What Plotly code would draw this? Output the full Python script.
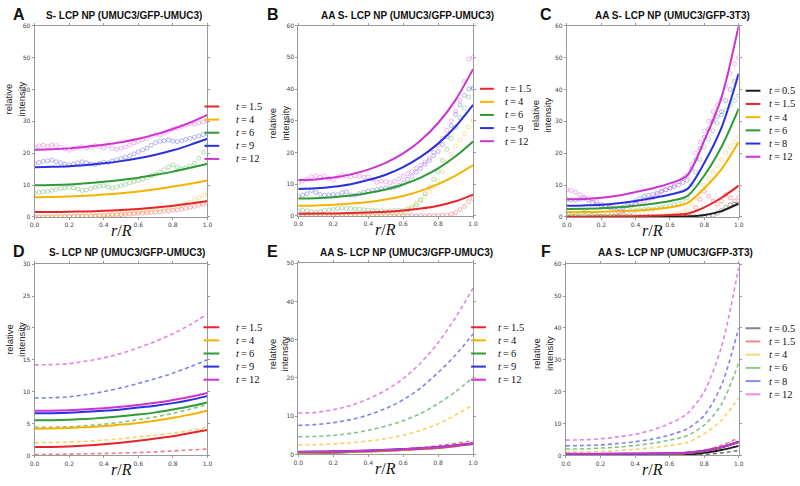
import plotly.graph_objects as go

W, H = 800, 486

# ---------------- data ----------------
r_model = [0.0, 0.1, 0.2, 0.3, 0.4, 0.5, 0.6, 0.7, 0.8, 0.9, 1.0]
r_data = [0.0, 0.025, 0.05, 0.075, 0.1, 0.125, 0.15, 0.175, 0.2, 0.225, 0.25,
          0.275, 0.3, 0.325, 0.35, 0.375, 0.4, 0.425, 0.45, 0.475, 0.5, 0.525,
          0.55, 0.575, 0.6, 0.625, 0.65, 0.675, 0.7, 0.725, 0.75, 0.775, 0.8,
          0.825, 0.85, 0.875, 0.9, 0.925, 0.95, 0.975, 1.0]

x_ticks = [0.0, 0.2, 0.4, 0.6, 0.8, 1.0]
x_tick_labels = ["0.0", "0.2", "0.4", "0.6", "0.8", "1.0"]

times_umuc = ["1.5", "4", "6", "9", "12"]
times_3t3 = ["0.5", "1.5", "4", "6", "8", "12"]

# Panel A : model fits
a_fit_red = [1.5, 1.52, 1.6, 1.72, 1.9, 2.15, 2.5, 2.95, 3.5, 4.2, 5.0]
a_fit_orange = [6.2, 6.25, 6.4, 6.65, 7.0, 7.45, 8.0, 8.7, 9.5, 10.4, 11.4]
a_fit_green = [9.9, 10.0, 10.2, 10.55, 11.0, 11.6, 12.3, 13.2, 14.2, 15.4, 16.7]
a_fit_blue = [15.6, 15.7, 15.9, 16.3, 16.8, 17.5, 18.4, 19.5, 20.9, 22.6, 24.5]
a_fit_magenta = [21.1, 21.2, 21.5, 22.0, 22.6, 23.4, 24.5, 25.9, 27.6, 29.6, 32.0]
# Panel A : measured
a_red = [0.0, 0.0, 0.0, 0.0, 0.0, 0.1, 0.1, 0.1, 0.1, 0.1, 0.2, 0.2, 0.2, 0.3, 0.3, 0.4, 0.4, 0.5, 0.6, 0.6,
         0.7, 0.8, 0.9, 1.0, 1.1, 1.2, 1.3, 1.4, 1.5, 1.6, 1.8, 1.9, 2.1, 2.2, 2.4, 2.7, 3.0, 3.3, 3.7, 4.0, 4.3]
a_orange = [0.0, 0.0, 0.1, 0.1, 0.1, 0.1, 0.2, 0.2, 0.2, 0.3, 0.3, 0.4, 0.4, 0.5, 0.5, 0.6, 0.7, 0.8, 0.9, 1.0,
            1.1, 1.2, 1.4, 1.5, 1.6, 1.8, 1.9, 2.1, 2.3, 2.5, 2.7, 2.9, 3.1, 3.4, 3.7, 4.1, 4.6, 5.3, 6.0, 6.8, 7.3]
a_green = [7.4, 7.7, 7.9, 8.0, 8.3, 8.6, 8.9, 9.1, 9.3, 9.1, 8.7, 8.3, 8.4, 8.9, 9.3, 9.6, 9.8, 9.4, 9.1, 9.4,
           9.8, 10.2, 10.7, 11.1, 11.4, 11.8, 12.3, 12.9, 13.4, 14.0, 14.8, 15.7, 16.3, 15.6, 15.1, 15.4, 16.0,
           16.9, 18.4, 20.3, 22.4]
a_blue = [16.8, 17.1, 17.4, 17.6, 17.8, 17.3, 17.0, 16.5, 16.3, 16.6, 16.9, 17.3, 17.0, 16.6, 16.4, 16.8, 17.2,
          17.0, 17.5, 17.9, 18.3, 18.7, 19.2, 19.8, 20.4, 21.0, 21.6, 22.5, 23.3, 23.7, 23.9, 24.1, 23.8, 23.6,
          23.9, 24.3, 24.7, 25.0, 25.4, 25.8, 26.0]
a_magenta = [21.8, 22.3, 22.5, 22.2, 22.6, 22.4, 21.8, 21.3, 20.9, 21.4, 21.8, 22.1, 21.6, 21.9, 22.4, 22.0, 21.7,
             22.3, 21.5, 21.2, 21.6, 22.0, 22.6, 23.2, 23.7, 24.2, 24.6, 25.3, 25.9, 25.6, 26.3, 26.9, 27.5, 27.9,
             28.4, 28.8, 29.3, 29.1, 29.5, 29.8, 30.1]

# Panel B : model fits
b_fit_red = [0.7, 0.72, 0.78, 0.88, 1.05, 1.3, 1.7, 2.3, 3.2, 4.6, 6.7]
b_fit_orange = [3.2, 3.3, 3.5, 3.9, 4.4, 5.2, 6.3, 7.9, 10.0, 12.7, 16.0]
b_fit_green = [5.5, 5.6, 5.9, 6.4, 7.2, 8.3, 9.9, 12.1, 15.0, 18.8, 23.5]
b_fit_blue = [8.5, 8.7, 9.2, 10.0, 11.3, 13.0, 15.4, 18.6, 22.8, 28.2, 35.0]
b_fit_magenta = [11.3, 11.5, 12.1, 13.1, 14.6, 16.7, 19.7, 23.8, 29.3, 36.6, 46.3]
# Panel B : measured
b_red = [0.0, 0.1, 0.0, 0.0, 0.1, 0.0, 0.0, 0.1, 0.0, 0.0, 0.1, 0.0, 0.0, 0.0, 0.1, 0.0, 0.0, 0.1, 0.0, 0.0,
         0.1, 0.0, 0.0, 0.1, 0.0, 0.0, 0.1, 0.0, 0.1, 0.0, 0.1, 0.1, 0.1, 0.2, 0.3, 0.6, 1.0, 2.0, 3.0, 4.5, 5.5]
b_orange = [0.1, 0.0, 0.1, 0.2, 0.1, 0.0, 0.1, 0.1, 0.2, 0.1, 0.0, 0.1, 0.2, 0.1, 0.1, 0.0, 0.1, 0.2, 0.1, 0.2,
            0.1, 0.2, 0.3, 0.5, 1.2, 2.2, 3.0, 4.0, 5.0, 6.2, 7.5, 9.2, 11.0, 14.0, 17.0, 19.5, 22.0, 24.0, 26.0,
            28.0, 30.0]
b_green = [1.5, 1.8, 1.6, 1.3, 1.2, 1.4, 1.7, 1.9, 2.0, 2.3, 2.5, 2.4, 2.3, 2.2, 2.1, 1.9, 1.8, 1.8, 1.7, 1.6,
           1.5, 1.6, 1.7, 1.8, 1.7, 1.9, 2.5, 3.5, 5.0, 7.0, 9.0, 11.5, 14.0, 17.5, 21.0, 24.5, 28.0, 31.0, 34.0,
           37.5, 40.0]
b_blue = [6.3, 6.6, 7.0, 8.0, 7.4, 6.8, 6.5, 6.6, 6.8, 6.7, 7.3, 7.6, 6.6, 6.5, 7.0, 7.4, 7.8, 8.0, 8.3, 8.6,
          8.8, 8.8, 9.0, 9.6, 10.4, 11.5, 12.5, 13.8, 15.0, 16.3, 17.5, 19.0, 20.3, 22.5, 25.0, 28.5, 32.0, 35.0,
          38.0, 40.0, 40.5]
b_magenta = [10.5, 11.0, 11.6, 12.4, 12.6, 12.2, 12.5, 11.8, 11.5, 12.3, 12.8, 12.6, 12.3, 12.7, 12.5, 12.2,
             12.4, 11.5, 10.6, 11.0, 10.8, 10.5, 10.9, 11.7, 12.5, 13.3, 14.0, 15.0, 16.0, 17.0, 18.2, 20.0, 22.2,
             24.5, 27.0, 30.0, 33.0, 36.5, 42.5, 49.5, 50.0]

# Panel C : model fits
c_fit_black = [0.0, 0.0, 0.0, 0.0, 0.0, 0.0, 0.02, 0.1, 0.6, 1.8, 4.2]
c_fit_red = [0.0, 0.0, 0.05, 0.1, 0.2, 0.35, 0.6, 1.0, 3.0, 6.0, 9.8]
c_fit_orange = [1.5, 1.5, 1.6, 1.8, 2.0, 2.4, 3.0, 4.3, 9.0, 15.0, 23.5]
c_fit_green = [2.5, 2.55, 2.7, 3.0, 3.5, 4.1, 5.0, 6.5, 13.0, 22.0, 34.0]
c_fit_blue = [3.5, 3.6, 3.8, 4.3, 5.0, 5.9, 7.0, 8.7, 17.0, 28.0, 45.0]
c_fit_magenta = [5.5, 5.6, 6.0, 6.7, 7.8, 9.0, 10.5, 13.0, 24.0, 37.5, 60.0]
# Panel C : measured
c_black = [0.0, 0.0, 0.0, 0.0, 0.0, 0.0, 0.0, 0.0, 0.0, 0.0, 0.0, 0.0, 0.0, 0.0, 0.0, 0.0, 0.0, 0.0, 0.0, 0.0,
           0.0, 0.0, 0.0, 0.0, 0.0, 0.0, 0.0, 0.0, 0.0, 0.0, 0.0, 0.0, 0.1, 0.2, 0.5, 1.2, 2.0, 3.0, 3.8, 4.0, 4.2]
c_red = [0.0, 0.0, 0.1, 0.0, 0.0, 0.1, 0.0, 0.0, 0.1, 0.0, 0.0, 0.1, 0.0, 0.0, 0.1, 0.0, 0.0, 0.1, 0.0, 0.0,
         0.1, 0.0, 0.0, 0.1, 0.0, 0.1, 0.0, 0.1, 0.2, 1.0, 3.0, 5.5, 8.0, 6.5, 5.0, 4.0, 5.0, 7.0, 6.0, 5.0, 6.0]
c_orange = [0.0, 0.1, 0.0, 0.1, 0.2, 0.1, 0.0, 0.1, 0.1, 0.0, 0.1, 0.2, 0.1, 0.0, 0.1, 0.2, 0.2, 0.1, 0.2, 0.3,
            0.2, 0.3, 0.3, 0.4, 0.5, 0.7, 1.0, 1.5, 2.0, 4.0, 6.0, 8.0, 10.0, 12.0, 14.0, 16.0, 18.0, 20.0, 22.0,
            23.5, 25.0]
c_green = [0.5, 0.6, 0.8, 1.2, 1.5, 1.2, 0.6, 0.4, 0.3, 0.3, 0.4, 0.4, 0.5, 0.8, 1.2, 1.6, 2.0, 2.2, 2.3, 2.4,
           2.5, 2.8, 3.0, 3.2, 3.5, 3.8, 4.0, 5.0, 6.0, 10.0, 14.0, 18.0, 22.0, 24.5, 27.0, 29.5, 32.0, 33.5,
           35.0, 36.5, 38.0]
c_blue = [5.5, 5.3, 5.2, 5.5, 5.8, 5.2, 4.5, 4.0, 3.5, 3.2, 3.0, 2.8, 2.8, 3.0, 3.5, 4.2, 5.0, 5.8, 6.5, 6.8,
          7.0, 7.5, 8.0, 8.5, 9.0, 9.5, 10.0, 10.8, 11.5, 15.0, 18.0, 21.5, 25.0, 27.5, 30.0, 31.5, 33.0, 36.5,
          40.0, 42.5, 44.0]
c_magenta = [8.5, 8.3, 7.8, 7.0, 6.2, 5.8, 5.5, 4.8, 4.0, 3.5, 3.0, 2.3, 1.5, 1.8, 2.5, 3.3, 4.0, 4.6, 5.0, 5.5,
             6.0, 7.0, 8.0, 8.5, 9.0, 10.0, 11.0, 12.0, 13.0, 16.5, 20.0, 23.5, 27.0, 30.0, 33.0, 35.0, 37.0,
             41.0, 45.0, 48.0, 50.0]

# Panel D : predictions (solid) and alternative predictions (dashed)
d_red = [1.3, 1.32, 1.4, 1.55, 1.75, 2.0, 2.3, 2.65, 3.0, 3.5, 4.0]
d_orange = [4.2, 4.22, 4.3, 4.43, 4.6, 4.83, 5.1, 5.45, 5.9, 6.4, 7.0]
d_green = [5.5, 5.52, 5.6, 5.73, 5.9, 6.13, 6.4, 6.75, 7.2, 7.7, 8.3]
d_blue = [6.6, 6.62, 6.7, 6.83, 7.0, 7.22, 7.5, 7.8, 8.2, 8.7, 9.3]
d_magenta = [7.0, 7.02, 7.1, 7.23, 7.4, 7.63, 7.9, 8.25, 8.7, 9.2, 9.8]
d_red_dash = [0.15, 0.16, 0.2, 0.25, 0.3, 0.37, 0.45, 0.56, 0.7, 0.85, 1.0]
d_orange_dash = [2.0, 2.03, 2.1, 2.23, 2.4, 2.62, 2.9, 3.2, 3.5, 3.9, 4.4]
d_green_dash = [4.4, 4.43, 4.5, 4.68, 4.9, 5.2, 5.6, 6.05, 6.6, 7.25, 8.0]
d_blue_dash = [9.0, 9.05, 9.2, 9.55, 10.0, 10.6, 11.3, 12.05, 12.9, 13.9, 15.0]
d_magenta_dash = [14.2, 14.25, 14.4, 14.8, 15.3, 16.0, 16.9, 17.9, 19.1, 20.5, 22.2]

# Panel E
e_red = [0.3, 0.35, 0.45, 0.6, 0.75, 0.95, 1.15, 1.4, 1.7, 2.15, 2.7]
e_orange = [0.4, 0.45, 0.55, 0.7, 0.85, 1.05, 1.25, 1.5, 1.8, 2.25, 2.8]
e_green = [0.5, 0.55, 0.65, 0.78, 0.92, 1.1, 1.3, 1.55, 1.85, 2.3, 2.85]
e_blue = [0.7, 0.73, 0.8, 0.9, 1.03, 1.2, 1.4, 1.62, 1.95, 2.38, 2.9]
e_magenta = [0.6, 0.64, 0.72, 0.84, 0.98, 1.15, 1.35, 1.58, 1.9, 2.34, 2.88]
e_red_dash = [0.5, 0.52, 0.6, 0.72, 0.9, 1.12, 1.4, 1.8, 2.3, 2.9, 3.6]
e_orange_dash = [2.5, 2.55, 2.75, 3.05, 3.5, 4.1, 5.0, 6.3, 8.0, 10.3, 13.0]
e_green_dash = [4.6, 4.7, 5.0, 5.5, 6.3, 7.4, 8.8, 10.7, 13.3, 16.4, 20.2]
e_blue_dash = [7.6, 7.8, 8.3, 9.1, 10.3, 12.0, 14.3, 17.4, 21.4, 26.0, 31.5]
e_magenta_dash = [10.8, 11.0, 11.7, 12.8, 14.5, 16.8, 19.8, 23.9, 29.2, 35.8, 43.5]

# Panel F
f_black = [0.0, 0.0, 0.0, 0.0, 0.0, 0.0, 0.05, 0.2, 0.8, 1.7, 3.0]
f_red = [0.3, 0.3, 0.32, 0.35, 0.38, 0.42, 0.5, 0.7, 1.3, 2.5, 4.2]
f_orange = [0.35, 0.35, 0.37, 0.4, 0.43, 0.47, 0.55, 0.75, 1.35, 2.55, 4.25]
f_green = [0.4, 0.4, 0.42, 0.45, 0.48, 0.52, 0.6, 0.8, 1.4, 2.55, 4.3]
f_blue = [0.45, 0.45, 0.47, 0.5, 0.53, 0.57, 0.65, 0.85, 1.45, 2.6, 4.3]
f_magenta = [0.5, 0.5, 0.52, 0.55, 0.58, 0.62, 0.7, 0.9, 1.5, 2.6, 4.3]
f_black_dash = [0.0, 0.0, 0.0, 0.0, 0.0, 0.0, 0.0, 0.05, 0.3, 0.8, 1.5]
f_red_dash = [0.05, 0.05, 0.07, 0.1, 0.15, 0.25, 0.4, 0.7, 1.6, 3.2, 5.5]
f_orange_dash = [1.0, 1.05, 1.2, 1.5, 1.9, 2.4, 3.1, 4.0, 6.8, 11.0, 18.0]
f_green_dash = [2.0, 2.05, 2.3, 2.6, 3.1, 3.8, 4.8, 6.2, 9.5, 16.0, 29.0]
f_blue_dash = [3.0, 3.1, 3.3, 3.7, 4.3, 5.1, 6.4, 8.3, 12.5, 22.0, 40.0]
f_magenta_dash = [4.8, 4.9, 5.2, 5.8, 6.6, 8.0, 10.0, 13.0, 20.0, 34.0, 59.0]

# ---------------- style ----------------
COL = {"black": "#1c1c1c", "red": "#e8232b", "orange": "#f5b300", "green": "#2e9b35",
       "blue": "#2a30e0", "magenta": "#cf33cf"}
C5 = ["red", "orange", "green", "blue", "magenta"]
C6 = ["black", "red", "orange", "green", "blue", "magenta"]


def rgba(name, a):
    h = COL[name].lstrip("#")
    r, g, b = int(h[0:2], 16), int(h[2:4], 16), int(h[4:6], 16)
    return f"rgba({r},{g},{b},{a})"


SANS = "Liberation Sans, Arial, sans-serif"
SERIF = "Liberation Serif, DejaVu Serif, serif"

panels = [
    dict(letter="A", title="S- LCP NP (UMUC3/GFP-UMUC3)", box=(30, 22, 205, 216), ymax=60, ystep=10,
         colors=C5, labels=times_umuc,
         fits=[a_fit_red, a_fit_orange, a_fit_green, a_fit_blue, a_fit_magenta], dashed=None,
         data=[a_red, a_orange, a_green, a_blue, a_magenta],
         title_x=120, title_y=12, letter_x=14, ylab=(10, 96), leg=(202, 217, 232, 104, 13.3), leg_alpha=1.0),
    dict(letter="B", title="AA S- LCP NP (UMUC3/GFP-UMUC3)", box=(297, 22, 474, 215), ymax=60, ystep=10,
         colors=C5, labels=times_umuc,
         fits=[b_fit_red, b_fit_orange, b_fit_green, b_fit_blue, b_fit_magenta], dashed=None,
         data=[b_red, b_orange, b_green, b_blue, b_magenta],
         title_x=408, title_y=12, letter_x=271, ylab=(277, 121), leg=(481, 495, 504, 86, 13.3), leg_alpha=1.0),
    dict(letter="C", title="AA S- LCP NP (UMUC3/GFP-3T3)", box=(569, 22, 743, 216), ymax=60, ystep=10,
         colors=C6, labels=times_3t3,
         fits=[c_fit_black, c_fit_red, c_fit_orange, c_fit_green, c_fit_blue, c_fit_magenta], dashed=None,
         data=[c_black, c_red, c_orange, c_green, c_blue, c_magenta],
         title_x=676, title_y=12, letter_x=548, ylab=(543, 113), leg=(750, 765, 772, 88, 13.4), leg_alpha=1.0),
    dict(letter="D", title="S- LCP NP (UMUC3/GFP-UMUC3)", box=(30, 264, 205, 458), ymax=30, ystep=5,
         colors=C5, labels=times_umuc,
         fits=[d_red, d_orange, d_green, d_blue, d_magenta],
         dashed=[d_red_dash, d_orange_dash, d_green_dash, d_blue_dash, d_magenta_dash], data=None,
         title_x=124, title_y=252, letter_x=14, ylab=(10, 340), leg=(201, 217, 232, 328, 13.3), leg_alpha=1.0),
    dict(letter="E", title="AA S- LCP NP (UMUC3/GFP-UMUC3)", box=(297, 263, 474, 457), ymax=50, ystep=10,
         colors=C5, labels=times_umuc,
         fits=[e_red, e_orange, e_green, e_blue, e_magenta],
         dashed=[e_red_dash, e_orange_dash, e_green_dash, e_blue_dash, e_magenta_dash], data=None,
         title_x=407, title_y=252, letter_x=271, ylab=(277, 355), leg=(472, 487, 497, 328, 13.3), leg_alpha=1.0),
    dict(letter="F", title="AA S- LCP NP (UMUC3/GFP-3T3)", box=(568, 264, 743, 458), ymax=60, ystep=10,
         colors=C6, labels=times_3t3,
         fits=[f_black, f_red, f_orange, f_green, f_blue, f_magenta],
         dashed=[f_black_dash, f_red_dash, f_orange_dash, f_green_dash, f_blue_dash, f_magenta_dash], data=None,
         title_x=679, title_y=252, letter_x=548, ylab=(545, 355), leg=(750, 765, 772, 329, 13.4), leg_alpha=0.55),
]

fig = go.Figure()
layout = dict(width=W, height=H, margin=dict(l=0, r=0, t=0, b=0), paper_bgcolor="white",
              plot_bgcolor="white", showlegend=False)
annotations = []
shapes = []


def px(x):
    return x / W


def py(y):
    return 1 - y / H


for i, p in enumerate(panels, start=1):
    xa = "x" if i == 1 else f"x{i}"
    ya = "y" if i == 1 else f"y{i}"
    x0, y0, x1, y1 = p["box"]
    axis_common = dict(showline=True, mirror="ticks", linecolor="#9a9a9a", linewidth=1, ticks="outside",
                       ticklen=2, tickcolor="#9a9a9a", showgrid=False, zeroline=False, fixedrange=True,
                       tickfont=dict(family="DejaVu Sans", size=6, color="#444"))
    layout["xaxis" if i == 1 else f"xaxis{i}"] = dict(
        domain=[px(x0), px(x1)], range=[0, 1], anchor=ya, tickvals=x_ticks, ticktext=x_tick_labels,
        **axis_common)
    yticks = list(range(0, p["ymax"] + 1, p["ystep"]))
    layout["yaxis" if i == 1 else f"yaxis{i}"] = dict(
        domain=[py(y1), py(y0)], range=[0, p["ymax"]], anchor=xa, tickvals=yticks,
        ticktext=[str(v) for v in yticks], **axis_common)

    # measured data markers
    if p["data"]:
        for cname, ys in zip(p["colors"], p["data"]):
            fig.add_trace(go.Scatter(x=r_data, y=ys, mode="markers", xaxis=xa, yaxis=ya,
                                     marker=dict(symbol="circle-open", size=4, color=rgba(cname, 0.35),
                                                 line=dict(width=1, color=rgba(cname, 0.35)))))
    # dashed alternative predictions
    if p["dashed"]:
        for cname, ys in zip(p["colors"], p["dashed"]):
            fig.add_trace(go.Scatter(x=r_model, y=ys, mode="lines", xaxis=xa, yaxis=ya,
                                     line=dict(color=rgba(cname, 0.6), width=1.6, dash="4px,3px",
                                               shape="spline", smoothing=0.8)))
    # solid model curves
    for cname, ys in zip(p["colors"], p["fits"]):
        fig.add_trace(go.Scatter(x=r_model, y=ys, mode="lines", xaxis=xa, yaxis=ya,
                                 line=dict(color=COL[cname], width=2, shape="spline", smoothing=0.8)))

    # titles / panel letters / axis labels
    annotations.append(dict(x=px(p["title_x"]), y=py(p["title_y"]), xref="paper", yref="paper",
                            text=f"<b>{p['title']}</b>", showarrow=False, xanchor="center", yanchor="middle",
                            font=dict(family=SANS, size=10, color="#111")))
    annotations.append(dict(x=px(p["letter_x"]), y=py(p["title_y"] - 1), xref="paper", yref="paper",
                            text=f"<b>{p['letter']}</b>", showarrow=False, xanchor="center", yanchor="middle",
                            font=dict(family=SANS, size=16, color="#111")))
    annotations.append(dict(x=px(p["ylab"][0]), y=py(p["ylab"][1]), xref="paper", yref="paper",
                            text="relative<br>intensity", showarrow=False, textangle=-90,
                            xanchor="center", yanchor="middle",
                            font=dict(family=SANS, size=9.5, color="#222")))
    annotations.append(dict(x=px((x0 + x1) / 2), y=py(y1 + 14), xref="paper", yref="paper",
                            text="<i>r</i>/<i>R</i>", showarrow=False, xanchor="center", yanchor="middle",
                            font=dict(family=SERIF, size=16, color="#111")))

    # legend (line swatch + label) for the solid curves
    lx0, lx1, tx, ly0, dy = p["leg"]
    for k, (cname, lab) in enumerate(zip(p["colors"], p["labels"])):
        yy = ly0 + k * dy
        shapes.append(dict(type="line", xref="paper", yref="paper", x0=px(lx0), x1=px(lx1),
                           y0=py(yy), y1=py(yy), line=dict(color=rgba(cname, p["leg_alpha"]), width=2)))
        annotations.append(dict(x=px(tx), y=py(yy), xref="paper", yref="paper",
                                text=f"<i>t</i>\u2009=\u2009{lab}", showarrow=False, xanchor="left",
                                yanchor="middle", font=dict(family=SERIF, size=10.5, color="#111")))

layout["annotations"] = annotations
layout["shapes"] = shapes
fig.update_layout(**layout)
fig.write_html("out.html", config={"displayModeBar": False},
               post_script="document.body.style.margin='0';document.body.style.padding='0';")
